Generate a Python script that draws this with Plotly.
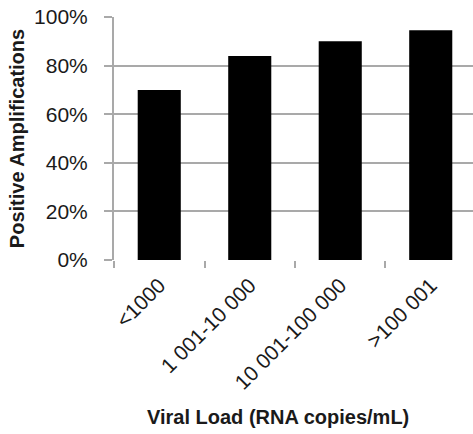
import plotly.graph_objects as go

categories = ["<1000", "1 001-10 000", "10 001-100 000", ">100 001"]
values = [0.70, 0.84, 0.90, 0.945]
y_ticks = [0, 0.2, 0.4, 0.6, 0.8, 1.0]
y_tick_labels = ["0%", "20%", "40%", "60%", "80%", "100%"]
x_title = "Viral Load (RNA copies/mL)"
y_title = "Positive Amplifications"

FONT = "Liberation Sans"
GRID = "#a9a9a9"
TXT = "#1a1a1a"

fig = go.Figure(
    go.Bar(
        x=categories,
        y=values,
        marker=dict(color="black", line=dict(width=0)),
        width=0.476,
        hoverinfo="skip",
    )
)

fig.update_layout(
    width=473,
    height=434,
    margin=dict(l=114, r=0, t=17, b=174),
    paper_bgcolor="white",
    plot_bgcolor="white",
    showlegend=False,
    font=dict(family=FONT, size=20, color=TXT),
)

# x-axis title placed like the original (centred on the chart, not the plot area)
fig.add_annotation(
    text=f"<b>{x_title}</b>",
    xref="paper", yref="paper",
    x=0.458, y=-0.646,
    xanchor="center", yanchor="middle",
    showarrow=False,
    font=dict(family=FONT, size=20, color=TXT),
)

fig.update_xaxes(
    type="category",
    range=[-0.5, 3.467],
    tickson="boundaries",
    ticks="outside",
    ticklen=7,
    tickwidth=1.5,
    tickcolor=GRID,
    tickangle=-45,
    tickfont=dict(family=FONT, size=21, color=TXT),
    ticklabelstandoff=8,
    showgrid=False,
    showline=False,
    automargin=False,
)

fig.update_yaxes(
    range=[0, 1],
    tickvals=y_ticks,
    ticktext=y_tick_labels,
    ticks="outside",
    ticklen=8,
    tickwidth=2,
    tickcolor=GRID,
    showgrid=True,
    gridcolor=GRID,
    gridwidth=2,
    zeroline=False,
    showline=True,
    linecolor=GRID,
    linewidth=2,
    ticklabelstandoff=12,
    ticklabeloverflow="allow",
    tickfont=dict(family=FONT, size=21, color=TXT),
    title=dict(text=f"<b>{y_title}</b>",
               font=dict(family=FONT, size=20, color=TXT), standoff=4),
    automargin=False,
)

# remove the default 8px page margin so the figure fills the window exactly
fig.write_html(
    "out.html",
    config={"displayModeBar": False},
    post_script="document.body.style.margin='0';document.body.style.overflow='hidden';",
)
